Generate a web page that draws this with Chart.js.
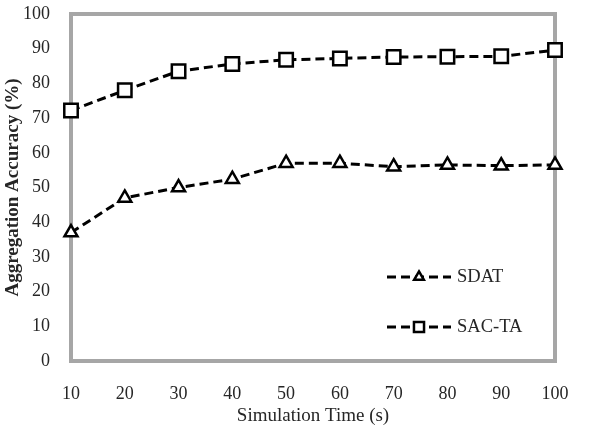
<!DOCTYPE html>
<html lang="en">
<head>
    <meta charset="UTF-8">
    <title>Aggregation Accuracy</title>
    <script src="https://cdn.jsdelivr.net/npm/chart.js"></script>
    <style>
        * { margin: 0; padding: 0; box-sizing: border-box; }
        body { background: #ffffff; }
        .chart-box { width: 595px; height: 432px; position: relative; }
    </style>
</head>
<body>
    <div class="chart-box">
        <canvas id="accChart"></canvas>
    </div>

    <script>
        const simTimes = ['10', '20', '30', '40', '50', '60', '70', '80', '90', '100'];
        const sdatValues = [37, 47, 50, 52.4, 57, 57, 56, 56.5, 56.3, 56.5];
        const sacValues = [72.2, 78, 83.5, 85.6, 86.8, 87.2, 87.6, 87.7, 87.8, 89.6];
        const yTicks = [0, 10, 20, 30, 40, 50, 60, 70, 80, 90, 100];

        const textColor = '#262626';
        const frameColor = '#a6a6a6';
        const serif = "'Liberation Serif', 'Times New Roman', serif";

        // gray frame round the plot area
        const framePlugin = {
            id: 'frame',
            beforeDatasetsDraw(chart) {
                const { ctx, chartArea: a } = chart;
                ctx.save();
                ctx.strokeStyle = frameColor;
                ctx.lineWidth = 4;
                ctx.strokeRect(a.left, a.top, a.right - a.left, a.bottom - a.top);
                ctx.restore();
            }
        };

        // legend inside the plot: dashed line with marker in the middle
        const lineLegend = {
            id: 'lineLegend',
            afterDatasetsDraw(chart) {
                const { ctx, chartArea: a } = chart;
                const x0 = a.right - 168, x1 = a.right - 104, xm = (x0 + x1) / 2;
                const rows = [a.top + 263, a.top + 313];
                chart.data.datasets.forEach((ds, i) => {
                    const y = rows[i];
                    ctx.save();
                    ctx.strokeStyle = ds.borderColor;
                    ctx.lineWidth = ds.borderWidth;
                    ctx.setLineDash(ds.borderDash);
                    ctx.beginPath();
                    ctx.moveTo(x0, y);
                    ctx.lineTo(x1, y);
                    ctx.stroke();
                    ctx.setLineDash([]);
                    ctx.fillStyle = ds.pointBackgroundColor;
                    ctx.strokeStyle = ds.pointBorderColor;
                    ctx.lineWidth = ds.pointBorderWidth;
                    Chart.helpers.drawPoint(ctx, {
                        pointStyle: ds.pointStyle,
                        radius: ds.pointRadius * 0.75,
                        borderWidth: ds.pointBorderWidth,
                        rotation: 0
                    }, xm, y);
                    ctx.fillStyle = textColor;
                    ctx.font = '18.5px ' + serif;
                    ctx.textBaseline = 'middle';
                    ctx.fillText(ds.label, x1 + 6, y);
                    ctx.restore();
                });
            }
        };

        const common = {
            borderColor: '#000000',
            borderWidth: 3,
            borderDash: [9, 5],
            pointBackgroundColor: '#ffffff',
            pointBorderColor: '#000000',
            pointBorderWidth: 2.5,
            tension: 0,
            fill: false
        };

        new Chart(document.getElementById('accChart'), {
            type: 'line',
            data: {
                labels: simTimes,
                datasets: [
                    Object.assign({ label: 'SDAT', data: sdatValues, pointStyle: 'triangle', pointRadius: 7.5 }, common),
                    Object.assign({ label: 'SAC-TA', data: sacValues, pointStyle: 'rect', pointRadius: 9.5 }, common)
                ]
            },
            options: {
                responsive: true,
                maintainAspectRatio: false,
                animation: false,
                layout: { padding: { top: 14, right: 40, left: 0, bottom: 0 } },
                plugins: {
                    legend: { display: false },
                    tooltip: { enabled: false }
                },
                scales: {
                    x: {
                        type: 'category',
                        offset: false,
                        grid: { display: false },
                        border: { display: false },
                        ticks: { color: textColor, font: { family: serif, size: 18 }, padding: 14, maxRotation: 0 },
                        title: {
                            display: true,
                            text: 'Simulation Time (s)',
                            color: textColor,
                            font: { family: serif, size: 19 },
                            padding: { top: 0, bottom: 5 }
                        },
                        afterFit(scale) {
                            scale.height = 71;
                            scale.paddingLeft = 0;
                            scale.paddingRight = 0;
                        }
                    },
                    y: {
                        min: 0,
                        max: 100,
                        afterBuildTicks(scale) { scale.ticks = yTicks.map(v => ({ value: v })); },
                        grid: { display: false },
                        border: { display: false },
                        ticks: { color: textColor, font: { family: serif, size: 18 }, padding: 13 },
                        title: {
                            display: true,
                            text: 'Aggregation Accuracy (%)',
                            color: textColor,
                            font: { family: serif, size: 19, weight: 'bold' },
                            padding: { top: 2, bottom: 0 }
                        },
                        afterFit(scale) {
                            scale.width = 71;
                            scale.paddingTop = 0;
                            scale.paddingBottom = 0;
                        }
                    }
                }
            },
            plugins: [framePlugin, lineLegend]
        });
    </script>
</body>
</html>
